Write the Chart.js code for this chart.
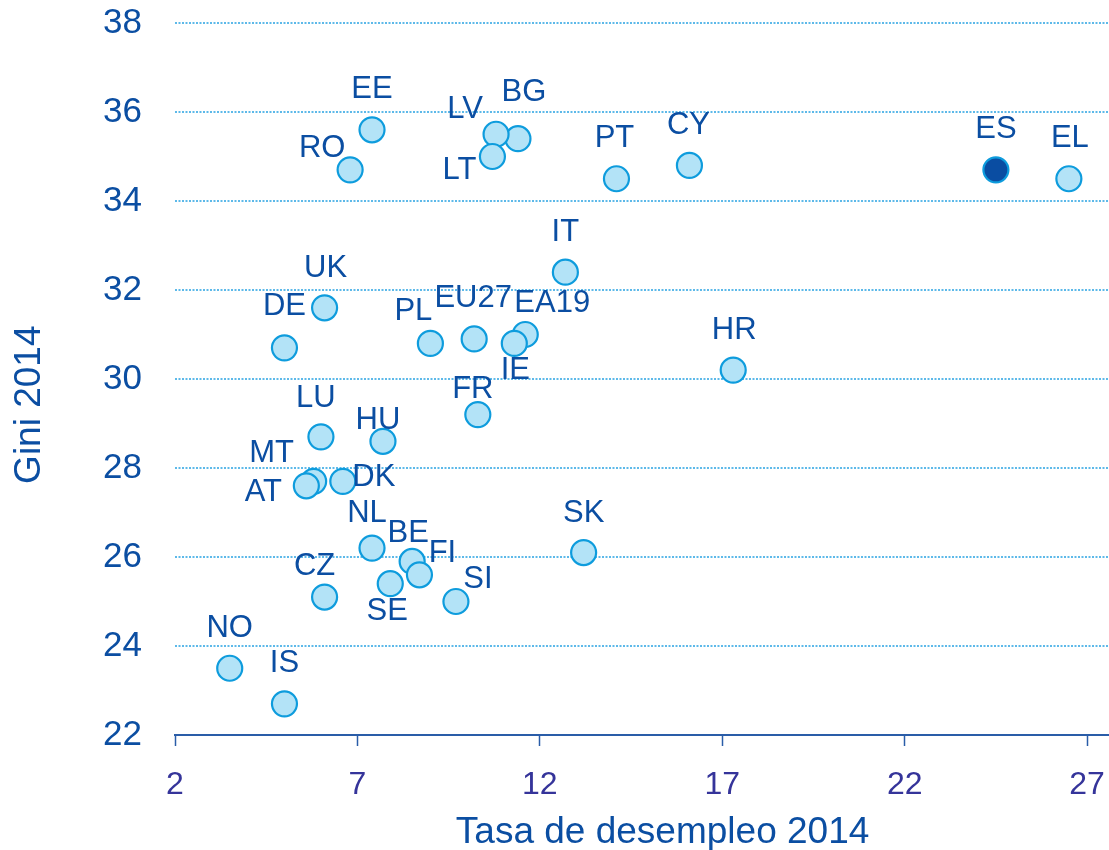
<!DOCTYPE html>
<html>
<head>
<meta charset="utf-8">
<script src="https://cdn.jsdelivr.net/npm/chart.js@4/dist/chart.umd.min.js"></script>
<style>
  html, body { margin: 0; padding: 0; background: #ffffff; }
  #wrap { width: 1109px; height: 850px; overflow: hidden; position: relative; }
  canvas { display: block; }
</style>
</head>
<body>
<div id="wrap"><canvas id="c" width="1109" height="870"></canvas></div>
<script>
// ---- data ----
const countries = ['EE','RO','BG','LV','LT','PT','CY','ES','EL','IT','UK','DE','PL','EU27','EA19','IE','HR','FR','LU','HU','MT','AT','DK','NL','BE','FI','SE','CZ','SI','SK','NO','IS'];
const unemployment = [7.4, 6.8, 11.4, 10.8, 10.7, 14.1, 16.1, 24.5, 26.5, 12.7, 6.1, 5.0, 9.0, 10.2, 11.6, 11.3, 17.3, 10.3, 6.0, 7.7, 5.8, 5.6, 6.6, 7.4, 8.5, 8.7, 7.9, 6.1, 9.7, 13.2, 3.5, 5.0];
const gini = [35.6, 34.7, 35.4, 35.5, 35.0, 34.5, 34.8, 34.7, 34.5, 32.4, 31.6, 30.7, 30.8, 30.9, 31.0, 30.8, 30.2, 29.2, 28.7, 28.6, 27.7, 27.6, 27.7, 26.2, 25.9, 25.6, 25.4, 25.1, 25.0, 26.1, 23.5, 22.7];
const xTickValues = [2, 7, 12, 17, 22, 27];
const yTickValues = [22, 24, 26, 28, 30, 32, 34, 36, 38];
const highlighted = 'ES';
const xTitle = '    Tasa de desempleo 2014';
const yTitle = 'Gini 2014     ';

// ---- label placement (style: pixel offset of label centre from point) ----
const labelOffsets = {
  EE:[0,-42], RO:[-28,-23], BG:[6,-48], LV:[-31,-27], LT:[-33,12], PT:[-2,-42], CY:[-1,-42],
  ES:[0,-42], EL:[1,-42], IT:[0,-42], UK:[1,-41], DE:[0,-43], PL:[-17,-34], EU27:[-1,-42],
  EA19:[27,-33], IE:[1,25], HR:[1,-42], FR:[-5,-27], LU:[-5,-40], HU:[-5,-23], MT:[-42,-30],
  AT:[-43,5], DK:[31,-6], NL:[-5,-37], BE:[-4,-30], FI:[23,-23], SE:[-3,26], CZ:[-10,-33],
  SI:[22,-24], SK:[0,-41], NO:[0,-42], IS:[0,-42]
};

const FONT = "'Liberation Sans', Arial, sans-serif";
const TEXT_BLUE = '#0B4EA2';

const points = countries.map((c, i) => ({ x: unemployment[i], y: gini[i], label: c }));

const labelPlugin = {
  id: 'pointLabels',
  afterDatasetsDraw(chart) {
    const ctx = chart.ctx;
    const meta = chart.getDatasetMeta(0);
    ctx.save();
    ctx.font = '31px ' + FONT;
    ctx.fillStyle = TEXT_BLUE;
    ctx.textAlign = 'center';
    ctx.textBaseline = 'middle';
    meta.data.forEach((el, i) => {
      const name = countries[i];
      const off = labelOffsets[name] || [0, -42];
      ctx.fillText(name, el.x + off[0], el.y + off[1] + 2);
    });
    ctx.restore();
  }
};

new Chart(document.getElementById('c'), {
  type: 'scatter',
  data: {
    datasets: [{
      data: points,
      pointRadius: 12.5,
      pointHoverRadius: 12.5,
      borderWidth: 2.2,
      pointBorderColor: '#0E9CDD',
      pointBackgroundColor: countries.map(c => c === highlighted ? '#0A4DA2' : '#B3E3F7')
    }]
  },
  options: {
    responsive: false,
    animation: false,
    events: [],
    layout: { autoPadding: false, padding: { top: 0, right: 0, bottom: 0, left: 0 } },
    plugins: { legend: { display: false }, tooltip: { enabled: false } },
    scales: {
      x: {
        type: 'linear',
        min: 2,
        max: 27.6,
        afterBuildTicks: s => { s.ticks = xTickValues.map(v => ({ value: v })); },
        afterFit: s => { s.height = 135; s.paddingLeft = 0; s.paddingRight = 0; },
        border: { display: true, color: '#2A5DA8', width: 2 },
        grid: { drawOnChartArea: false, drawTicks: true, tickLength: 11, tickColor: '#2A5DA8', tickWidth: 1.5 },
        ticks: { color: '#35349A', font: { family: FONT, size: 32 }, padding: 20, maxRotation: 0, autoSkip: false },
        title: { display: true, text: xTitle, color: TEXT_BLUE, font: { family: FONT, size: 37, lineHeight: 1.2 }, padding: { top: 0, bottom: 15 } }
      },
      y: {
        type: 'linear',
        min: 22,
        max: 38,
        afterBuildTicks: s => { s.ticks = yTickValues.map(v => ({ value: v })); },
        afterFit: s => { s.width = 175; s.paddingTop = 23; s.paddingBottom = 0; },
        border: { display: false, dash: [2, 1.5] },
        grid: {
          drawTicks: false,
          lineWidth: 2,
          color: c => (c.tick && c.tick.value === 22) ? 'rgba(0,0,0,0)' : '#5DB9E9'
        },
        ticks: { color: TEXT_BLUE, font: { family: FONT, size: 35 }, padding: 33, autoSkip: false },
        title: { display: true, text: yTitle, color: TEXT_BLUE, font: { family: FONT, size: 37, lineHeight: 1.2 }, padding: { top: 8, bottom: 0 } }
      }
    }
  },
  plugins: [labelPlugin]
});
</script>
</body>
</html>
